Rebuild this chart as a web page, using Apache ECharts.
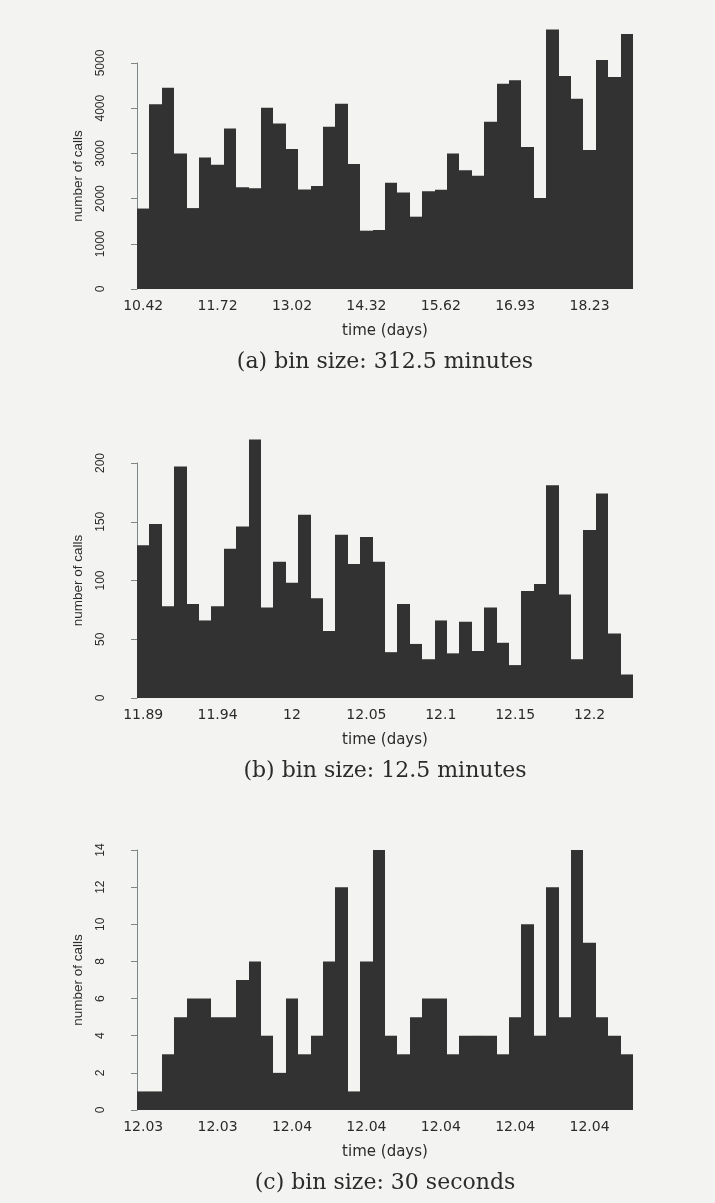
<!DOCTYPE html>
<html>
<head>
<meta charset="utf-8">
<script src="https://cdn.jsdelivr.net/npm/echarts@6/dist/echarts.min.js"></script>
<style>
  html, body { margin: 0; padding: 0; background: #f3f3f1; }
  #chart { width: 715px; height: 1203px; }
</style>
</head>
<body>
<div id="chart"></div>
<script>
// Number of calls per bin, three time scales
const callsA = [1780, 4090, 4450, 3000, 1790, 2910, 2750, 3550, 2250, 2230,
                4010, 3660, 3100, 2200, 2280, 3590, 4100, 2765, 1290, 1305,
                2350, 2135, 1600, 2165, 2195, 3000, 2625, 2505, 3700, 4540,
                4620, 3140, 2015, 5740, 4710, 4210, 3075, 5065, 4690, 5640];
const callsB = [130, 148, 78, 197, 80, 66, 78, 127, 146, 220,
                77, 116, 98, 156, 85, 57, 139, 114, 137, 116,
                39, 80, 46, 33, 66, 38, 65, 40, 77, 47,
                28, 91, 97, 181, 88, 33, 143, 174, 55, 20];
const callsC = [1, 1, 3, 5, 6, 6, 5, 5, 7, 8,
                4, 2, 6, 3, 4, 8, 12, 1, 8, 14,
                4, 3, 5, 6, 6, 3, 4, 4, 4, 3,
                5, 10, 4, 12, 5, 14, 9, 5, 4, 3];

// Time labels (days), one every six bins
const timeTicksA = ['10.42', '11.72', '13.02', '14.32', '15.62', '16.93', '18.23'];
const timeTicksB = ['11.89', '11.94', '12', '12.05', '12.1', '12.15', '12.2'];
const timeTicksC = ['12.03', '12.03', '12.04', '12.04', '12.04', '12.04', '12.04'];

const captions = ['(a) bin size: 312.5 minutes', '(b) bin size: 12.5 minutes', '(c) bin size: 30 seconds'];
const yTitle = 'number of calls';
const xTitle = 'time (days)';

const BAR = '#323232';
const INK = '#2b2b2b';
const AXIS = '#7d8787';
const BINS_PER_TICK = 6;

const panels = [
  { calls: callsA, ticks: timeTicksA, top: 63,  height: 226, max: 5000, step: 1000 },
  { calls: callsB, ticks: timeTicksB, top: 463, height: 235, max: 200,  step: 50 },
  { calls: callsC, ticks: timeTicksC, top: 850, height: 260, max: 14,   step: 2 }
];

const GRID_LEFT = 137, GRID_WIDTH = 496, AXIS_OFFSET = 20;
const CENTER_X = GRID_LEFT + GRID_WIDTH / 2;

// One filled rectangle per bin, from [i, 0] to [i + 1, count];
// edges are snapped to whole pixels so neighbouring bins meet without seams
function renderBin(params, api) {
  const i = api.value(0), v = api.value(1);
  const p0 = api.coord([i, 0]);
  const p1 = api.coord([i + 1, v]);
  const x0 = Math.round(p0[0]), x1 = Math.round(p1[0]);
  return {
    type: 'rect',
    shape: { x: x0, y: p1[1], width: x1 - x0, height: p0[1] - p1[1] },
    style: { fill: BAR }
  };
}

const grid = [], xAxis = [], yAxis = [], series = [], graphic = [];

panels.forEach((p, k) => {
  grid.push({ left: GRID_LEFT, width: GRID_WIDTH, top: p.top, height: p.height });
  xAxis.push({
    type: 'value', gridIndex: k, min: 0, max: p.calls.length,
    axisLine: { show: false }, axisTick: { show: false }, splitLine: { show: false },
    axisLabel: {
      customValues: p.ticks.map((_, j) => j * BINS_PER_TICK + 0.5),
      formatter: v => p.ticks[Math.round((v - 0.5) / BINS_PER_TICK)] || '',
      margin: 10, fontFamily: 'DejaVu Sans', fontSize: 14, color: INK
    }
  });
  yAxis.push({
    type: 'value', gridIndex: k, min: 0, max: p.max, interval: p.step, offset: AXIS_OFFSET,
    axisLine: { show: true, lineStyle: { color: AXIS, width: 1 } },
    axisTick: { show: true, length: 6, lineStyle: { color: AXIS } },
    splitLine: { show: false },
    axisLabel: {
      rotate: 90, margin: 10, fontFamily: 'Liberation Sans', fontSize: 12, color: INK,
      formatter: v => String(v)
    },
    name: yTitle, nameLocation: 'middle', nameRotate: 90, nameGap: 32,
    nameTextStyle: { fontFamily: 'Liberation Sans', fontSize: 13.5, color: INK }
  });
  series.push({
    type: 'custom', xAxisIndex: k, yAxisIndex: k, clip: false,
    renderItem: renderBin,
    data: p.calls.map((v, i) => [i, v])
  });
  const base = p.top + p.height;
  graphic.push({
    type: 'text', x: CENTER_X, y: base + 42,
    style: { text: xTitle, fontFamily: 'DejaVu Sans', fontSize: 15, fill: INK,
             textAlign: 'center', textVerticalAlign: 'middle' }
  });
  graphic.push({
    type: 'text', x: CENTER_X, y: base + 73,
    style: { text: captions[k], fontFamily: 'DejaVu Serif', fontSize: 22, fill: INK,
             textAlign: 'center', textVerticalAlign: 'middle' }
  });
});

const chart = echarts.init(document.getElementById('chart'), null, { renderer: 'canvas' });
chart.setOption({
  backgroundColor: '#f3f3f1',
  animation: false,
  grid, xAxis, yAxis, series, graphic
});
</script>
</body>
</html>
